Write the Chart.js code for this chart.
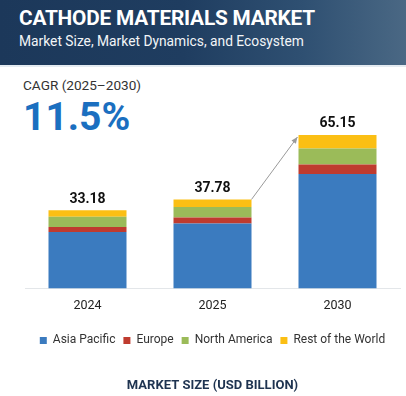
<!DOCTYPE html>
<html>
<head>
<meta charset="utf-8">
<script src="https://cdn.jsdelivr.net/npm/chart.js@4"></script>
<style>
  html, body { margin: 0; padding: 0; background: #fff; }
  body { width: 406px; height: 396px; position: relative; overflow: hidden; font-family: Roboto, "Noto Sans", sans-serif; }
  #head {
    position: absolute; left: 0; top: 0; width: 406px; height: 65px;
    background: linear-gradient(90deg, #1c385a 0%, #1f3d60 45%, #2f5072 75%, #4a6884 100%);
    border-bottom: 2px solid #e4ebf1;
  }
  #title { position: absolute; left: 19px; top: 6px; color: #fff; font-weight: 700; font-size: 20.8px; letter-spacing: -0.2px; }
  #sub { position: absolute; left: 19px; top: 33px; color: #f2f5f8; font-size: 13.8px; }
  #cagr { position: absolute; left: 23px; top: 77px; color: #333; font-size: 13.6px; }
  #big { position: absolute; left: 23px; top: 94px; color: #1b6fc0; font-weight: 700; font-size: 39px; }
  #wrap { position: absolute; left: 0; top: 0; width: 406px; height: 396px; }
</style>
</head>
<body>
<div id="head">
  <div id="title">CATHODE MATERIALS MARKET</div>
  <div id="sub">Market Size, Market Dynamics, and Ecosystem</div>
</div>
<div id="cagr">CAGR (2025–2030)</div>
<div id="big">11.5%</div>
<div id="wrap"><canvas id="myChart"></canvas></div>
<script>
var years = ['2024', '2025', '2030'];
var regions = ['Asia Pacific', 'Europe', 'North America', 'Rest of the World'];
var colors = ['#3b7bbf', '#bf3b2f', '#9bbb59', '#fbbf14'];
var asiaPacific = [23.9, 27.55, 48.55];
var europe = [2.2, 2.55, 4.1];
var northAmerica = [4.3, 4.5, 6.8];
var restOfWorld = [2.78, 3.18, 5.7];
var totals = ['33.18', '37.78', '65.15'];

var series = [asiaPacific, europe, northAmerica, restOfWorld];

// totals above the bars + the growth arrow
var extras = {
	id: 'extras',
	afterDatasetsDraw: function(chart) {
		var ctx = chart.ctx;
		var y = chart.scales.y;
		var top = chart.getDatasetMeta(series.length - 1);
		ctx.save();
		ctx.fillStyle = '#111';
		ctx.font = 'bold 14px Roboto';
		ctx.textAlign = 'center';
		ctx.textBaseline = 'bottom';
		for (var i = 0; i < years.length; i++) {
			ctx.fillText(totals[i], top.data[i].x, y.getPixelForValue(parseFloat(totals[i])) - 4);
		}
		var a = top.data[1], b = top.data[2];
		var x1 = a.x + a.width / 2, y1 = a.y;
		var x2 = b.x - b.width / 2 - 1, y2 = b.y + 2;
		ctx.strokeStyle = '#9a9a9a';
		ctx.fillStyle = '#9a9a9a';
		ctx.lineWidth = 1;
		ctx.beginPath();
		ctx.moveTo(x1, y1);
		ctx.lineTo(x2, y2);
		ctx.stroke();
		var ang = Math.atan2(y2 - y1, x2 - x1);
		ctx.beginPath();
		ctx.moveTo(x2, y2);
		ctx.lineTo(x2 - 7 * Math.cos(ang - 0.4), y2 - 7 * Math.sin(ang - 0.4));
		ctx.lineTo(x2 - 7 * Math.cos(ang + 0.4), y2 - 7 * Math.sin(ang + 0.4));
		ctx.closePath();
		ctx.fill();
		ctx.restore();
	}
};

var ctx = document.getElementById('myChart').getContext('2d');
var myChart = new Chart(ctx, {
	type: 'bar',
	data: {
		labels: years,
		datasets: series.map(function(s, i) {
			return {
				label: regions[i],
				data: s,
				backgroundColor: colors[i],
				borderWidth: 0,
				categoryPercentage: 1,
				barPercentage: 0.624
			};
		})
	},
	options: {
		responsive: true,
		maintainAspectRatio: false,
		animation: false,
		layout: { padding: { top: 100, left: 25, right: 6, bottom: 0 } },
		scales: {
			x: {
				stacked: true,
				grid: { display: false },
				border: { display: true, color: '#e3e6e9', width: 1 },
				ticks: { color: '#222', font: { family: 'Roboto', size: 12.5 }, padding: 2 },
				afterFit: function(scale) { scale.height += 11; }
			},
			y: {
				stacked: true,
				display: false,
				min: 0,
				max: 80
			}
		},
		plugins: {
			legend: {
				position: 'bottom',
				labels: {
					usePointStyle: true,
					pointStyle: 'rect',
					boxWidth: 7,
					boxHeight: 7,
					padding: 8,
					color: '#333',
					font: { family: 'Roboto', size: 12 }
				}
			},
			title: {
				display: true,
				position: 'bottom',
				text: 'MARKET SIZE (USD BILLION)',
				color: '#1e3350',
				font: { family: 'Roboto', size: 13, weight: 'bold' },
				padding: { top: 22, bottom: 2 }
			},
			tooltip: { enabled: false }
		}
	},
	plugins: [extras]
});
</script>
</body>
</html>
